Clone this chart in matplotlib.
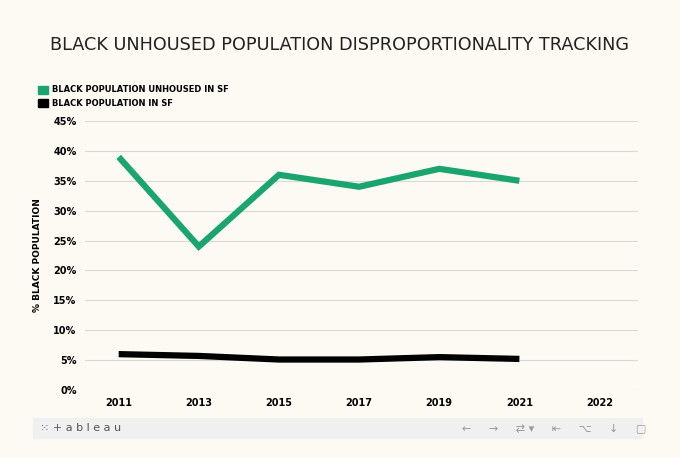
import matplotlib.pyplot as plt
import matplotlib.patches as patches

years = ["2011", "2013", "2015", "2017", "2019", "2021", "2022"]
unhoused = [39, 24, 36, 34, 37, 35]
population = [6.0, 5.7, 5.1, 5.1, 5.5, 5.2]
yticks = [0, 5, 10, 15, 20, 25, 30, 35, 40, 45]

bg = "#fdfaf3"
green = "#1aa56f"

fig = plt.figure(figsize=(6.8, 4.58), dpi=100, facecolor=bg)
ax = fig.add_axes([85/680, 1-390/458, (638-85)/680, (390-121)/458], facecolor=bg)

x = list(range(len(unhoused)))
ax.plot(x, unhoused, color=green, lw=4.5, solid_capstyle="butt", solid_joinstyle="miter")
ax.plot(x, population, color="black", lw=4.5, solid_capstyle="butt")

ax.set_xlim(-0.42, 6.48)
ax.set_ylim(0, 45)
ax.set_yticks(yticks)
ax.set_yticklabels([f"{v}%" for v in yticks], fontsize=7, fontweight="bold")
ax.set_xticks(range(len(years)))
ax.set_xticklabels(years, fontsize=7, fontweight="bold")
ax.tick_params(length=0, pad=6)
ax.grid(axis="y", color="#d9d9d9", lw=0.8)
ax.set_axisbelow(True)
for s in ax.spines.values():
    s.set_visible(False)
ax.set_ylabel("% BLACK POPULATION", fontsize=6.5, fontweight="bold", labelpad=8)

fig.text(0.5, 1-45/458, "BLACK UNHOUSED POPULATION DISPROPORTIONALITY TRACKING",
         ha="center", va="center", fontsize=12.7, color="#222222")

for i, (lab, c) in enumerate([("BLACK POPULATION UNHOUSED IN SF", green), ("BLACK POPULATION IN SF", "black")]):
    yy = 1 - (90 + i * 13) / 458
    fig.patches.append(patches.Rectangle((38/680, yy - 4/458), 10/680, 8/458,
                                         transform=fig.transFigure, color=c))
    fig.text(52/680, yy, lab, fontsize=6, fontweight="bold", va="center")

# toolbar strip
fig.patches.append(patches.Rectangle((33/680, 1-438/458), (642-33)/680, 20/458,
                                     transform=fig.transFigure, color="#f0f0f0"))
fig.text(40/680, 1-428/458, "\u2059 + a b l e a u", fontsize=8, color="#555555", va="center")
fig.text(462/680, 1-428/458, "\u2190     \u2192     \u21c4 \u25be     \u21e4     \u2325     \u2193     \u25a2",
         fontsize=8, color="#999999", va="center")

fig.savefig("out.png", dpi=100, facecolor=bg)
